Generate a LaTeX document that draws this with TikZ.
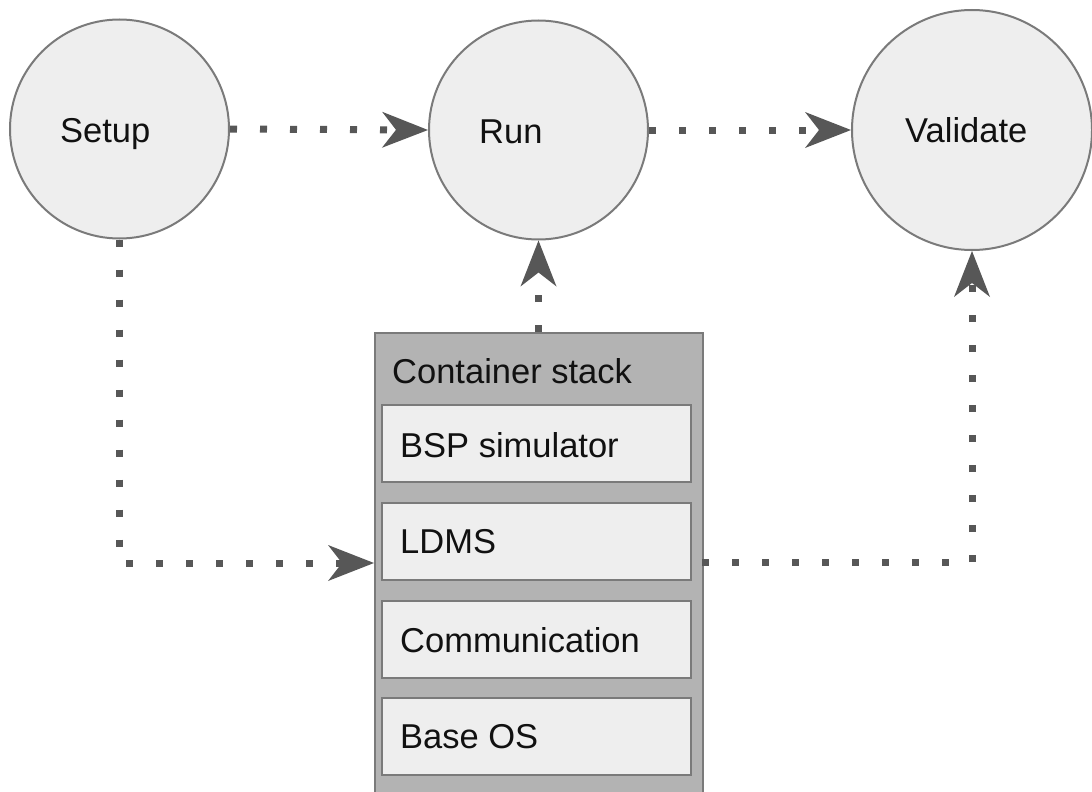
\documentclass[tikz,border=0pt]{standalone}
\usepackage{fontspec}
\setmainfont{Liberation Sans}
\usetikzlibrary{arrows.meta}
\definecolor{linegray}{HTML}{575757}
\definecolor{bordergray}{HTML}{7A7A7A}
\definecolor{lightfill}{HTML}{EEEEEE}
\definecolor{stackgray}{HTML}{B3B3B3}
\definecolor{txt}{HTML}{111111}
\begin{document}
\begin{tikzpicture}[x=1pt,y=-1pt,
  stage/.style={circle,draw=bordergray,line width=2pt,fill=lightfill,minimum size=#1,inner sep=0pt},
  lbl/.style={anchor=base west,inner sep=0pt,font=\fontsize{34.5}{40}\selectfont,text=txt},
  flow/.style={draw=linegray,line width=7pt,dash pattern=on 7pt off 23pt,
    -{Stealth[length=46pt,width=36pt,inset=14pt,line width=0pt]}},
  stackbox/.style={draw=bordergray,line width=2pt,fill=stackgray,anchor=north west,inner sep=0pt,
    minimum width=328pt,minimum height=480pt},
  layer/.style={draw=bordergray,line width=2pt,fill=lightfill,inner sep=0pt,
    minimum width=309pt,minimum height=77pt}]
\useasboundingbox (0,0) rectangle (1092,792);
\clip (0,0) rectangle (1092,792);
% stages
\node[stage=219pt] (setup) at (119.5,129) {};
\node[stage=219pt] (run) at (538.5,130) {};
\node[stage=240pt] (validate) at (972,130) {};
\node[lbl] (tsetup) at (60,142) {Setup};
\node[lbl] (trun) at (479,143) {Run};
\node[lbl] (tvalidate) at (905,142) {Validate};
% container stack
\node[stackbox] (stack) at (374,332) {};
\node[lbl] (tstack) at (392,383) {Container stack};
\node[layer] (bsp) at (536.5,443.5) {};
\node[layer] (ldms) at (536.5,541) {};
\node[layer] (comm) at (536.5,639) {};
\node[layer] (base) at (536.5,736.5) {};
\node[lbl] (tbsp) at (400,457) {BSP simulator};
\node[lbl] (tldms) at (400,553) {LDMS};
\node[lbl] (tcomm) at (400,652) {Communication};
\node[lbl] (tbase) at (400,748) {Base OS};
% connectors
\coordinate (inL) at (374,563);
\coordinate (outR) at (702,562);
\draw[flow] (setup.east) -- (run.west);
\draw[flow] (run.east) -- (validate.west);
\draw[flow] (setup.south) |- (inL);
\draw[flow] (outR) -| (validate.south);
\draw[flow] (run.south |- stack.north) -- (run.south);
\end{tikzpicture}
\end{document}
